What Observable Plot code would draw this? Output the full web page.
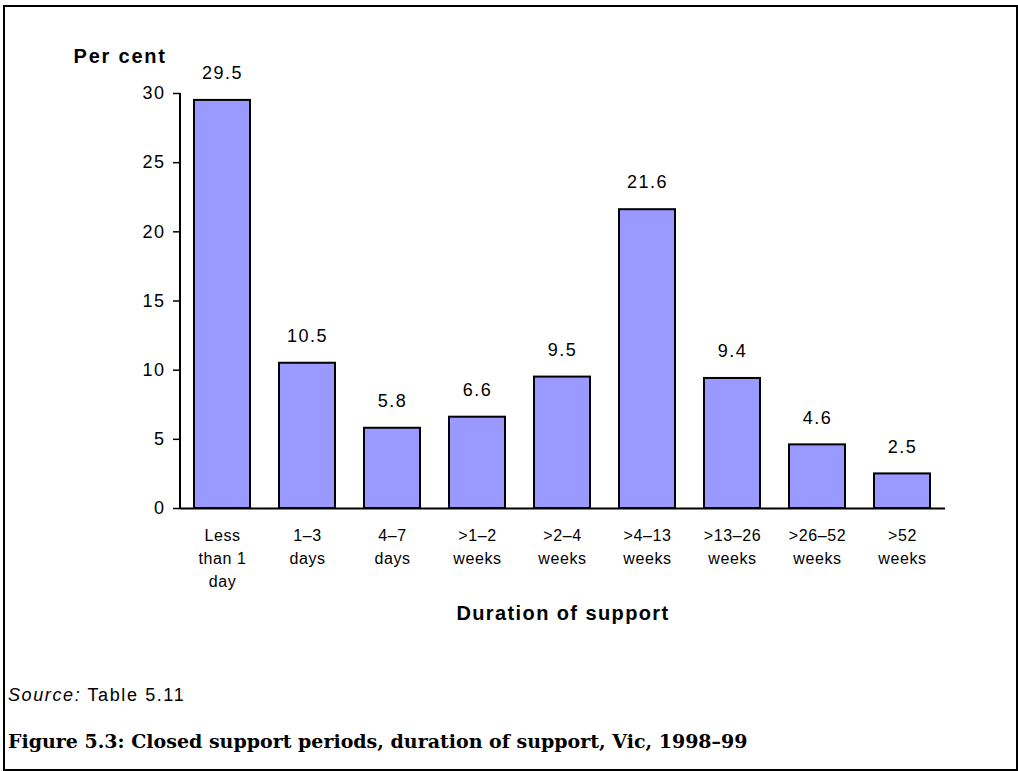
<!DOCTYPE html>
<html>
<head>
<meta charset="utf-8">
<script src="https://cdn.jsdelivr.net/npm/d3@7"></script>
<script src="https://cdn.jsdelivr.net/npm/@observablehq/plot@0.6"></script>
<style>
  html, body { margin: 0; padding: 0; background: #fff; }
  body { width: 1018px; height: 771px; position: relative; overflow: hidden; font-family: "Liberation Sans", Arial, sans-serif; }
  #frame { position: absolute; left: 3px; top: 5px; width: 1015px; height: 766px; box-sizing: border-box; border: 2px solid #000; }
  #chart { position: absolute; left: 0; top: 0; }
  #source { position: absolute; left: 8px; top: 685px; font-size: 18px; color: #000; letter-spacing: 1.6px; }
  #caption { position: absolute; left: 8px; top: 730px; font-family: "DejaVu Serif", serif; font-weight: bold; font-size: 19px; color: #000; white-space: nowrap; }
  g[aria-label="y-axis tick label"] text { letter-spacing: 1.5px; }
  g[aria-label="x-axis tick label"] text { letter-spacing: 0.6px; }
</style>
</head>
<body>
<div id="frame"></div>
<div id="chart"></div>
<div id="source"><i>Source:</i> Table 5.11</div>
<div id="caption">Figure 5.3: Closed support periods, duration of support, Vic, 1998–99</div>
<script>
const categories = ["Less\nthan 1\nday", "1–3\ndays", "4–7\ndays", ">1–2\nweeks", ">2–4\nweeks", ">4–13\nweeks", ">13–26\nweeks", ">26–52\nweeks", ">52\nweeks"];
const values = [29.5, 10.5, 5.8, 6.6, 9.5, 21.6, 9.4, 4.6, 2.5];
const yTicks = [0, 5, 10, 15, 20, 25, 30];
const yLabel = "Per cent";
const xLabel = "Duration of support";

const data = categories.map((c, i) => ({category: c, value: values[i]}));

const yAxisLine = (index, scales, values, dimensions) => {
  const {marginLeft, marginTop, height, marginBottom} = dimensions;
  const line = d3.create("svg:line")
    .attr("x1", marginLeft).attr("x2", marginLeft)
    .attr("y1", marginTop).attr("y2", height - marginBottom)
    .attr("stroke", "#000").attr("stroke-width", 2);
  return line.node();
};

const chart = Plot.plot({
  width: 1018,
  height: 640,
  marginLeft: 180,
  marginRight: 73,
  marginTop: 93,
  marginBottom: 132,
  style: {fontFamily: "'Liberation Sans', Arial, sans-serif", color: "#000", background: "transparent"},
  x: {domain: categories, paddingInner: 0.34, paddingOuter: 0.17},
  y: {domain: [0, 30]},
  marks: [
    Plot.barY(data, {x: "category", y: "value", fill: "#9999FF", stroke: "#000", strokeWidth: 2}),
    Plot.ruleY([0], {stroke: "#000", strokeWidth: 2}),
    yAxisLine,
    Plot.axisY({ticks: yTicks, tickSize: 7, tickPadding: 8, fontSize: 18, label: null, strokeWidth: 1.5}),
    Plot.axisX({tickSize: 0, tickPadding: 16, fontSize: 16, lineHeight: 1.45, label: null, lineAnchor: "top"}),
    Plot.text(data, {x: "category", y: "value", text: d => d.value.toFixed(1), dy: -27, fontSize: 18, fill: "#000"}),
    Plot.text([yLabel], {frameAnchor: "top-left", textAnchor: "start", dx: -107, dy: -45, fontSize: 20, fontWeight: "bold", fill: "#000"}),
    Plot.text([xLabel], {frameAnchor: "bottom", dy: 111, fontSize: 20, fontWeight: "bold", fill: "#000"})
  ]
});
const textGroups = d3.select(chart).selectAll('g[aria-label="text"]').nodes();
const spacings = ["1.5px", "1.8px", "1.4px"];
textGroups.forEach((g, i) => d3.select(g).style("letter-spacing", spacings[i] || null));
document.getElementById("chart").appendChild(chart);
</script>
</body>
</html>
